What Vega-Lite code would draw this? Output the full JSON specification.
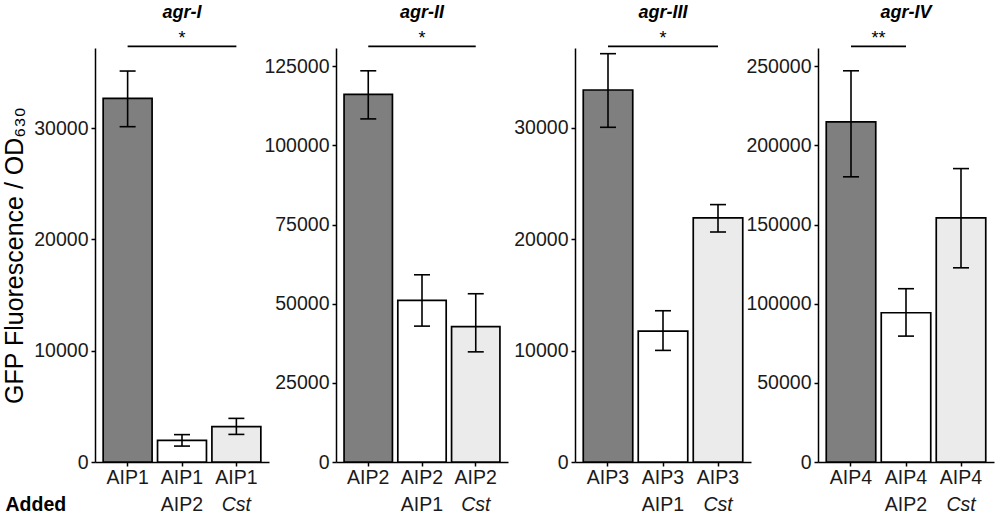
{
  "$schema": "https://vega.github.io/schema/vega-lite/v6.json",
  "padding": {"left": 2, "top": 4, "right": 3, "bottom": 2},
  "background": "white",
  "datasets": {
    "bars": [
      {"panel": "agr-I", "grp": "AIP1", "line2": "", "kind": "alone", "mean": 32680, "lo": 30130, "hi": 35130},
      {"panel": "agr-I", "grp": "AIP1|AIP2", "line2": "AIP2", "kind": "AIP", "mean": 1950, "lo": 1430, "hi": 2460},
      {"panel": "agr-I", "grp": "AIP1|Cst", "line2": "Cst", "kind": "Cst", "mean": 3170, "lo": 2480, "hi": 3920},
      {"panel": "agr-II", "grp": "AIP2", "line2": "", "kind": "alone", "mean": 116170, "lo": 108400, "hi": 123600},
      {"panel": "agr-II", "grp": "AIP2|AIP1", "line2": "AIP1", "kind": "AIP", "mean": 51040, "lo": 42930, "hi": 59150},
      {"panel": "agr-II", "grp": "AIP2|Cst", "line2": "Cst", "kind": "Cst", "mean": 42740, "lo": 34800, "hi": 53160},
      {"panel": "agr-III", "grp": "AIP3", "line2": "", "kind": "alone", "mean": 33400, "lo": 30050, "hi": 36660},
      {"panel": "agr-III", "grp": "AIP3|AIP1", "line2": "AIP1", "kind": "AIP", "mean": 11750, "lo": 10020, "hi": 13580},
      {"panel": "agr-III", "grp": "AIP3|Cst", "line2": "Cst", "kind": "Cst", "mean": 21920, "lo": 20650, "hi": 23110},
      {"panel": "agr-IV", "grp": "AIP4", "line2": "", "kind": "alone", "mean": 214900, "lo": 180200, "hi": 247200},
      {"panel": "agr-IV", "grp": "AIP4|AIP2", "line2": "AIP2", "kind": "AIP", "mean": 94300, "lo": 79550, "hi": 109500},
      {"panel": "agr-IV", "grp": "AIP4|Cst", "line2": "Cst", "kind": "Cst", "mean": 154300, "lo": 122700, "hi": 185400}
    ],
    "sig": [
      {"panel": "agr-I", "from": "AIP1", "to": "AIP1|Cst", "mid": "AIP1|AIP2", "label": "*"},
      {"panel": "agr-II", "from": "AIP2", "to": "AIP2|Cst", "mid": "AIP2|AIP1", "label": "*"},
      {"panel": "agr-III", "from": "AIP3", "to": "AIP3|Cst", "mid": "AIP3|AIP1", "label": "*"},
      {"panel": "agr-IV", "from": "AIP4", "to": "AIP4|AIP2", "mid": "AIP4", "label": "**"}
    ]
  },
  "spacing": 67,
  "bounds": "flush",
  "hconcat": [
    {
      "title": {"text": "agr-I"},
      "width": 174,
      "height": 414,
      "data": {"name": "bars"},
      "transform": [{"filter": "datum.panel == 'agr-I'"}],
      "encoding": {
        "x": {
          "field": "grp", "type": "nominal",
          "scale": {"domain": ["AIP1", "AIP1|AIP2", "AIP1|Cst"], "paddingInner": 0.1, "paddingOuter": 0.15},
          "axis": {"labelExpr": "split(datum.label, '|')[0]", "labelAngle": 0, "title": "Added", "titleFontWeight": "bold", "titleFontSize": 19.5, "titleAlign": "left", "titleAnchor": "start", "titleBaseline": "middle", "titleX": -90, "titleY": 42.8}
        }
      },
      "layer": [
        {
          "mark": {"type": "bar", "stroke": "black", "strokeWidth": 1.7},
          "encoding": {
            "y": {"field": "mean", "type": "quantitative", "scale": {"domain": [0, 37200], "nice": false, "zero": false}, "axis": {"values": [0, 10000, 20000, 30000], "format": "d", "title": "GFP Fluorescence / OD₆₃₀", "titleFontSize": 25, "titleFontWeight": "normal", "titlePadding": 6}},
            "fill": {"field": "kind", "type": "nominal", "scale": {"domain": ["alone", "AIP", "Cst"], "range": ["#7f7f7f", "#ffffff", "#ebebeb"]}, "legend": null}
          }
        },
        {"mark": {"type": "rule", "strokeWidth": 1.6, "color": "black"}, "encoding": {"y": {"field": "lo", "type": "quantitative"}, "y2": {"field": "hi"}}},
        {"mark": {"type": "tick", "size": 16, "thickness": 1.6, "color": "black", "opacity": 1}, "encoding": {"y": {"field": "lo", "type": "quantitative"}}},
        {"mark": {"type": "tick", "size": 16, "thickness": 1.6, "color": "black", "opacity": 1}, "encoding": {"y": {"field": "hi", "type": "quantitative"}}},
        {"transform": [{"filter": "datum.line2 != 'Cst'"}], "mark": {"type": "text", "fontSize": 19.5, "baseline": "middle", "color": "#1a1a1a"}, "encoding": {"y": {"datum": -3846, "type": "quantitative"}, "text": {"field": "line2"}}},
        {"transform": [{"filter": "datum.line2 == 'Cst'"}], "mark": {"type": "text", "fontSize": 19.5, "baseline": "middle", "fontStyle": "italic", "color": "#1a1a1a"}, "encoding": {"y": {"datum": -3846, "type": "quantitative"}, "text": {"field": "line2"}}},
        {"data": {"name": "sig"}, "transform": [{"filter": "datum.panel == 'agr-I'"}], "mark": {"type": "rule", "strokeWidth": 1.7, "color": "black"}, "encoding": {"x": {"field": "from", "type": "nominal"}, "x2": {"field": "to"}, "y": {"datum": 37344, "type": "quantitative"}}},
        {"data": {"name": "sig"}, "transform": [{"filter": "datum.panel == 'agr-I'"}], "mark": {"type": "text", "fontSize": 18, "baseline": "alphabetic", "color": "black"}, "encoding": {"x": {"field": "mid", "type": "nominal"}, "y": {"datum": 37586, "type": "quantitative"}, "text": {"field": "label"}}}
      ]
    },
    {
      "title": {"text": "agr-II"},
      "width": 172,
      "height": 414,
      "data": {"name": "bars"},
      "transform": [{"filter": "datum.panel == 'agr-II'"}],
      "encoding": {
        "x": {
          "field": "grp", "type": "nominal",
          "scale": {"domain": ["AIP2", "AIP2|AIP1", "AIP2|Cst"], "paddingInner": 0.1, "paddingOuter": 0.15},
          "axis": {"labelExpr": "split(datum.label, '|')[0]", "labelAngle": 0, "title": null}
        }
      },
      "layer": [
        {
          "mark": {"type": "bar", "stroke": "black", "strokeWidth": 1.7},
          "encoding": {
            "y": {"field": "mean", "type": "quantitative", "scale": {"domain": [0, 130800], "nice": false, "zero": false}, "axis": {"values": [0, 25000, 50000, 75000, 100000, 125000], "format": "d", "title": null}},
            "fill": {"field": "kind", "type": "nominal", "scale": {"domain": ["alone", "AIP", "Cst"], "range": ["#7f7f7f", "#ffffff", "#ebebeb"]}, "legend": null}
          }
        },
        {"mark": {"type": "rule", "strokeWidth": 1.6, "color": "black"}, "encoding": {"y": {"field": "lo", "type": "quantitative"}, "y2": {"field": "hi"}}},
        {"mark": {"type": "tick", "size": 16, "thickness": 1.6, "color": "black", "opacity": 1}, "encoding": {"y": {"field": "lo", "type": "quantitative"}}},
        {"mark": {"type": "tick", "size": 16, "thickness": 1.6, "color": "black", "opacity": 1}, "encoding": {"y": {"field": "hi", "type": "quantitative"}}},
        {"transform": [{"filter": "datum.line2 != 'Cst'"}], "mark": {"type": "text", "fontSize": 19.5, "baseline": "middle", "color": "#1a1a1a"}, "encoding": {"y": {"datum": -13520, "type": "quantitative"}, "text": {"field": "line2"}}},
        {"transform": [{"filter": "datum.line2 == 'Cst'"}], "mark": {"type": "text", "fontSize": 19.5, "baseline": "middle", "fontStyle": "italic", "color": "#1a1a1a"}, "encoding": {"y": {"datum": -13520, "type": "quantitative"}, "text": {"field": "line2"}}},
        {"data": {"name": "sig"}, "transform": [{"filter": "datum.panel == 'agr-II'"}], "mark": {"type": "rule", "strokeWidth": 1.7, "color": "black"}, "encoding": {"x": {"field": "from", "type": "nominal"}, "x2": {"field": "to"}, "y": {"datum": 131305, "type": "quantitative"}}},
        {"data": {"name": "sig"}, "transform": [{"filter": "datum.panel == 'agr-II'"}], "mark": {"type": "text", "fontSize": 18, "baseline": "alphabetic", "color": "black"}, "encoding": {"x": {"field": "mid", "type": "nominal"}, "y": {"datum": 132158, "type": "quantitative"}, "text": {"field": "label"}}}
      ]
    },
    {
      "title": {"text": "agr-III"},
      "width": 176,
      "height": 414,
      "data": {"name": "bars"},
      "transform": [{"filter": "datum.panel == 'agr-III'"}],
      "encoding": {
        "x": {
          "field": "grp", "type": "nominal",
          "scale": {"domain": ["AIP3", "AIP3|AIP1", "AIP3|Cst"], "paddingInner": 0.1, "paddingOuter": 0.15},
          "axis": {"labelExpr": "split(datum.label, '|')[0]", "labelAngle": 0, "title": null}
        }
      },
      "layer": [
        {
          "mark": {"type": "bar", "stroke": "black", "strokeWidth": 1.7},
          "encoding": {
            "y": {"field": "mean", "type": "quantitative", "scale": {"domain": [0, 37170], "nice": false, "zero": false}, "axis": {"values": [0, 10000, 20000, 30000], "format": "d", "title": null}},
            "fill": {"field": "kind", "type": "nominal", "scale": {"domain": ["alone", "AIP", "Cst"], "range": ["#7f7f7f", "#ffffff", "#ebebeb"]}, "legend": null}
          }
        },
        {"mark": {"type": "rule", "strokeWidth": 1.6, "color": "black"}, "encoding": {"y": {"field": "lo", "type": "quantitative"}, "y2": {"field": "hi"}}},
        {"mark": {"type": "tick", "size": 16, "thickness": 1.6, "color": "black", "opacity": 1}, "encoding": {"y": {"field": "lo", "type": "quantitative"}}},
        {"mark": {"type": "tick", "size": 16, "thickness": 1.6, "color": "black", "opacity": 1}, "encoding": {"y": {"field": "hi", "type": "quantitative"}}},
        {"transform": [{"filter": "datum.line2 != 'Cst'"}], "mark": {"type": "text", "fontSize": 19.5, "baseline": "middle", "color": "#1a1a1a"}, "encoding": {"y": {"datum": -3843, "type": "quantitative"}, "text": {"field": "line2"}}},
        {"transform": [{"filter": "datum.line2 == 'Cst'"}], "mark": {"type": "text", "fontSize": 19.5, "baseline": "middle", "fontStyle": "italic", "color": "#1a1a1a"}, "encoding": {"y": {"datum": -3843, "type": "quantitative"}, "text": {"field": "line2"}}},
        {"data": {"name": "sig"}, "transform": [{"filter": "datum.panel == 'agr-III'"}], "mark": {"type": "rule", "strokeWidth": 1.7, "color": "black"}, "encoding": {"x": {"field": "from", "type": "nominal"}, "x2": {"field": "to"}, "y": {"datum": 37314, "type": "quantitative"}}},
        {"data": {"name": "sig"}, "transform": [{"filter": "datum.panel == 'agr-III'"}], "mark": {"type": "text", "fontSize": 18, "baseline": "alphabetic", "color": "black"}, "encoding": {"x": {"field": "mid", "type": "nominal"}, "y": {"datum": 37556, "type": "quantitative"}, "text": {"field": "label"}}}
      ]
    },
    {
      "title": {"text": "agr-IV"},
      "width": 176,
      "height": 414,
      "data": {"name": "bars"},
      "transform": [{"filter": "datum.panel == 'agr-IV'"}],
      "encoding": {
        "x": {
          "field": "grp", "type": "nominal",
          "scale": {"domain": ["AIP4", "AIP4|AIP2", "AIP4|Cst"], "paddingInner": 0.1, "paddingOuter": 0.15},
          "axis": {"labelExpr": "split(datum.label, '|')[0]", "labelAngle": 0, "title": null}
        }
      },
      "layer": [
        {
          "mark": {"type": "bar", "stroke": "black", "strokeWidth": 1.7},
          "encoding": {
            "y": {"field": "mean", "type": "quantitative", "scale": {"domain": [0, 261600], "nice": false, "zero": false}, "axis": {"values": [0, 50000, 100000, 150000, 200000, 250000], "format": "d", "title": null}},
            "fill": {"field": "kind", "type": "nominal", "scale": {"domain": ["alone", "AIP", "Cst"], "range": ["#7f7f7f", "#ffffff", "#ebebeb"]}, "legend": null}
          }
        },
        {"mark": {"type": "rule", "strokeWidth": 1.6, "color": "black"}, "encoding": {"y": {"field": "lo", "type": "quantitative"}, "y2": {"field": "hi"}}},
        {"mark": {"type": "tick", "size": 16, "thickness": 1.6, "color": "black", "opacity": 1}, "encoding": {"y": {"field": "lo", "type": "quantitative"}}},
        {"mark": {"type": "tick", "size": 16, "thickness": 1.6, "color": "black", "opacity": 1}, "encoding": {"y": {"field": "hi", "type": "quantitative"}}},
        {"transform": [{"filter": "datum.line2 != 'Cst'"}], "mark": {"type": "text", "fontSize": 19.5, "baseline": "middle", "color": "#1a1a1a"}, "encoding": {"y": {"datum": -27045, "type": "quantitative"}, "text": {"field": "line2"}}},
        {"transform": [{"filter": "datum.line2 == 'Cst'"}], "mark": {"type": "text", "fontSize": 19.5, "baseline": "middle", "fontStyle": "italic", "color": "#1a1a1a"}, "encoding": {"y": {"datum": -27045, "type": "quantitative"}, "text": {"field": "line2"}}},
        {"data": {"name": "sig"}, "transform": [{"filter": "datum.panel == 'agr-IV'"}], "mark": {"type": "rule", "strokeWidth": 1.7, "color": "black"}, "encoding": {"x": {"field": "from", "type": "nominal"}, "x2": {"field": "to"}, "y": {"datum": 262611, "type": "quantitative"}}},
        {"data": {"name": "sig"}, "transform": [{"filter": "datum.panel == 'agr-IV'"}], "mark": {"type": "text", "fontSize": 18, "baseline": "alphabetic", "color": "black"}, "encoding": {"x": {"field": "mid", "type": "nominal", "bandPosition": 1.0556}, "y": {"datum": 264317, "type": "quantitative"}, "text": {"field": "label"}}}
      ]
    }
  ],
  "config": {
    "font": "Liberation Sans",
    "view": {"stroke": null},
    "title": {"fontSize": 18, "fontWeight": "bold", "fontStyle": "italic", "color": "black", "anchor": "middle", "offset": 7.5},
    "axis": {
      "grid": false,
      "domainColor": "black",
      "domainWidth": 1.5,
      "tickColor": "black",
      "tickWidth": 1.5,
      "tickSize": 4,
      "labelFontSize": 19.5,
      "labelColor": "#1a1a1a",
      "titleColor": "black"
    },
    "axisX": {"labelPadding": 2},
    "axisY": {"labelPadding": 3}
  }
}
